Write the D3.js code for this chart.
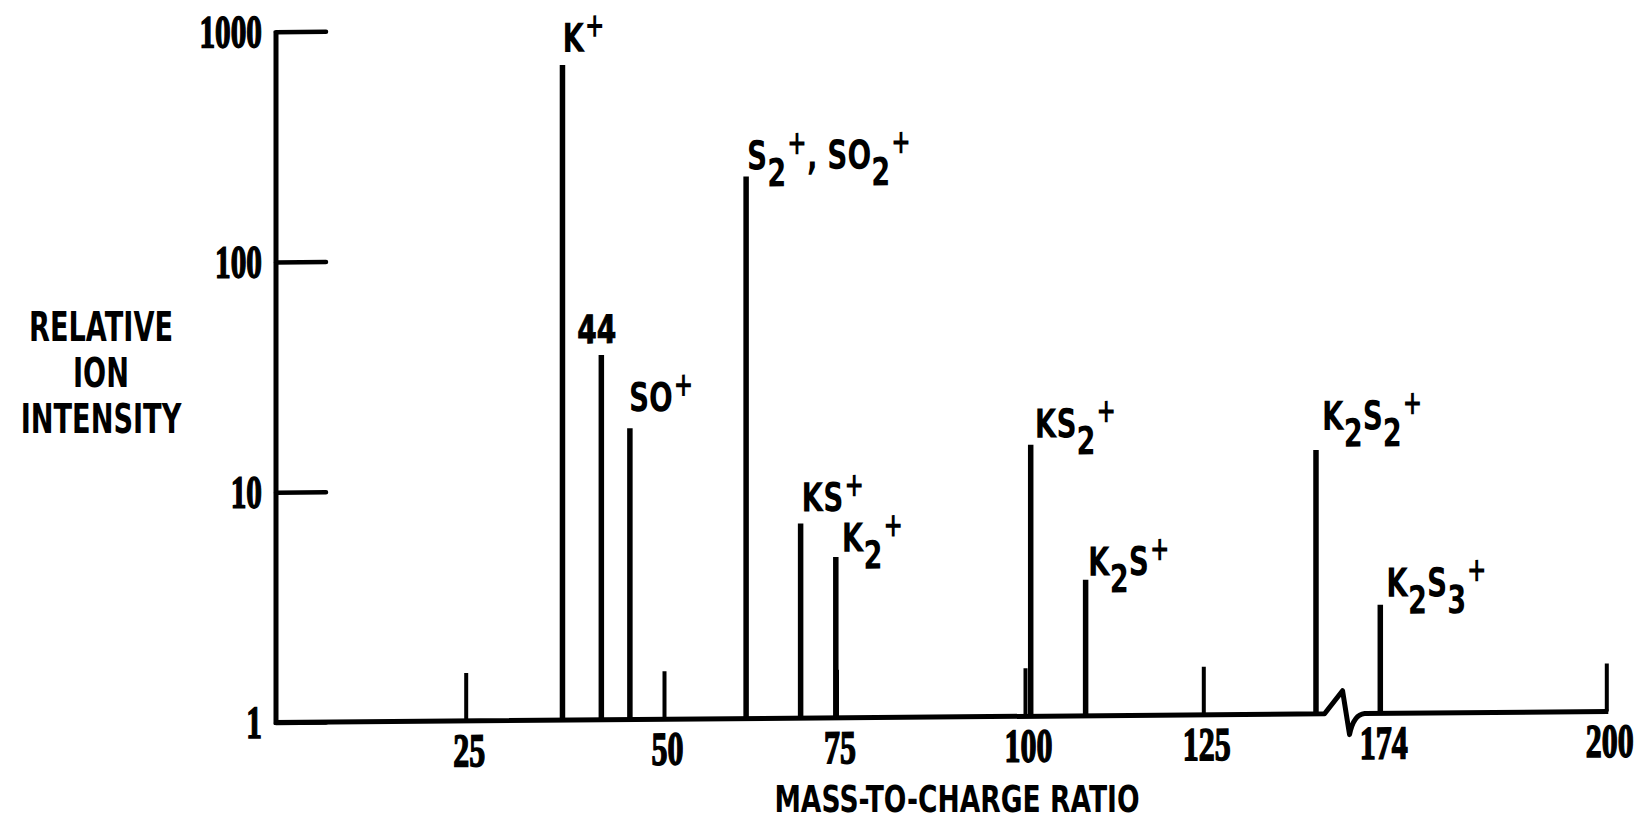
<!DOCTYPE html>
<html><head><meta charset="utf-8">
<script src="https://cdn.jsdelivr.net/npm/d3@7"></script>
<style>html,body{margin:0;padding:0;background:#fff;} svg{display:block}</style>
</head><body>
<svg id="chart" width="1643" height="822"></svg>
<script>
// ---------------- data ----------------
const ionLabels = ["K^+", "44", "SO^+", "S_2^+, SO_2^+", "KS^+", "K_2^+", "KS_2^+", "K_2S^+", "K_2S_2^+", "K_2S_3^+"];
const ionMass = [37.2, 42.1, 45.7, 61.9, 69.8, 74.9, 100.8, 108.5, 140.8, 174];
const ionIntensity = [700, 38.4, 18.4, 226, 7.0, 5.0, 15.1, 3.9, 14.0, 2.96];
const xTicksLow = [25, 50, 75, 100, 125];
const xTicksHigh = [174, 200];
const yTicks = [1, 10, 100, 1000];
const yTickLabels = ["1", "10", "100", "1000"];
const axisBreak = [142, 172.2];
const xTitle = "MASS-TO-CHARGE RATIO";
const yTitle = ["RELATIVE", "ION", "INTENSITY"];

// label placement relative to the top of each bar (layout only)
const labelOffsets = [[0,-13],[-4.5,-12],[-1,-17],[1,-7],[1,-12],[6,-5],[4,-7],[2.5,-4],[6,-20],[6,-8]];

// ---------------- layout / scales ----------------
const INK = "#000";
const SANS = "'DejaVu Sans', 'Liberation Sans', sans-serif";
const SERIF = "'Liberation Serif', 'DejaVu Serif', serif";
const svg = d3.select("#chart");

// hand-drawn abscissa: piecewise linear, broken between 142 and 172
const xLow = d3.scaleLinear().domain([0, 25, 50, 75, 100, 125]).range([276, 465.7, 664, 836.5, 1025, 1203.3]);
const xHigh = d3.scaleLinear().domain([174, 200]).range([1380.3, 1606.3]);
const x = v => (v < 160 ? xLow(v) : xHigh(v));
const y = d3.scaleLog().domain([1, 1000]).range([722.5, 31.7]);

// the drawing is slightly tilted (baseline rises to the right)
const g = svg.append("g").attr("transform", "translate(276,0) skewY(-0.474) translate(-276,0)");

// ---- y axis ----
const ySX = 0.68;
const yAxis = d3.axisLeft(y).tickValues(yTicks).tickFormat((d, i) => yTickLabels[i])
  .tickSizeInner(-50).tickSizeOuter(0).tickPadding(14);
const gy = g.append("g").attr("transform", "translate(276,0)").call(yAxis);
gy.select(".domain").attr("stroke", INK).attr("stroke-width", 5).attr("d", `M0,${y(1) + 2}V${y(1000) - 1}`);
gy.selectAll(".tick line").attr("stroke", INK).attr("stroke-width", 4.5).attr("stroke-linecap", "round");
gy.selectAll(".tick text").attr("fill", INK).attr("stroke", INK).attr("stroke-width", 1.6)
  .attr("font-family", SERIF).attr("font-weight", "bold")
  .attr("font-size", 46).attr("x", -14 / ySX).attr("transform", `scale(${ySX},1)`);

// ---- baseline with axis break ----
const y1 = y(1);
const b0 = xLow(axisBreak[0]), b1 = xHigh(axisBreak[1]);
const bp = d3.path();
bp.moveTo(xLow(0) - 2, y1);
bp.lineTo(b0, y1);
bp.lineTo(b0 + 18, y1 - 23);
bp.lineTo(b0 + 25, y1 + 21);
bp.quadraticCurveTo(b0 + 29, y1 + 1, b1, y1);
bp.lineTo(xHigh(200) + 2, y1);
g.append("path").attr("d", bp.toString()).attr("fill", "none").attr("stroke", INK)
  .attr("stroke-width", 5).attr("stroke-linejoin", "round");

// ---- x axes (inward ticks) ----
const xSX = 0.68;
function drawX(scale, ticks) {
  const ax = d3.axisBottom(scale).tickValues(ticks).tickFormat(d3.format("d"))
    .tickSizeInner(-48).tickSizeOuter(0).tickPadding(12);
  const gx = g.append("g").attr("transform", `translate(0,${y1})`).call(ax);
  gx.select(".domain").remove();
  gx.selectAll(".tick line").attr("stroke", INK).attr("stroke-width", 4);
  gx.selectAll(".tick text").attr("fill", INK).attr("stroke", INK).attr("stroke-width", 1.6)
    .attr("font-family", SERIF).attr("font-weight", "bold")
    .attr("font-size", 47).attr("x", 3 / xSX).attr("transform", `scale(${xSX},1)`);
}
drawX(xLow, xTicksLow);
drawX(xHigh, xTicksHigh);

// ---- bars ----
const ions = ionMass.map((m, i) => ({ m, v: ionIntensity[i], label: ionLabels[i], off: labelOffsets[i] }));
g.selectAll("line.bar").data(ions).join("line").attr("class", "bar")
  .attr("x1", d => x(d.m)).attr("x2", d => x(d.m))
  .attr("y1", y1).attr("y2", d => y(d.v))
  .attr("stroke", INK).attr("stroke-width", 5.5);

// ---- ion labels ----
function parseLabel(s) {
  const parts = [];
  for (let i = 0; i < s.length; i++) {
    const c = s[i];
    if (c === "_" || c === "^") { parts.push({ t: s[i + 1], k: c === "_" ? "sub" : "sup" }); i++; }
    else if (parts.length && parts[parts.length - 1].k === "n") parts[parts.length - 1].t += c;
    else parts.push({ t: c, k: "n" });
  }
  return parts;
}
const LSX = 0.7;
const style = { n: { size: 40, shift: 0 }, sub: { size: 39, shift: 17 }, sup: { size: 34, shift: -15 } };
ions.forEach(d => {
  const px = x(d.m) + d.off[0], py = y(d.v) + d.off[1];
  if (/^\d+$/.test(d.label)) {
    g.append("text").attr("transform", `translate(${px},${py}) scale(0.72,1)`)
      .attr("text-anchor", "middle").attr("font-family", SANS).attr("font-weight", "bold")
      .attr("stroke", INK).attr("stroke-width", 1)
      .attr("font-size", 39).attr("fill", INK).text(d.label);
    return;
  }
  const t = g.append("text").attr("transform", `translate(${px},${py}) scale(${LSX},1)`)
    .attr("font-family", SANS).attr("font-weight", "bold").attr("font-size", 40).attr("fill", INK);
  let cur = 0;
  parseLabel(d.label).forEach(p => {
    const st = style[p.k];
    t.append("tspan").attr("dy", st.shift - cur).attr("font-size", st.size)
      .attr("dx", p.k === "sup" ? 1 : 0).text(p.t);
    cur = st.shift;
  });
});

// ---- axis titles ----
const TSX = 0.68;
const titleBase = [340.7, 387, 432.5];
yTitle.forEach((s, i) => {
  svg.append("text").attr("transform", `translate(101,${titleBase[i]}) scale(${TSX},1)`)
    .attr("text-anchor", "middle").attr("font-family", SANS).attr("font-weight", "bold")
    .attr("font-size", 40).attr("fill", INK).text(s);
});
svg.append("text").attr("transform", `translate(957,812) scale(0.7,1)`)
  .attr("text-anchor", "middle").attr("font-family", SANS).attr("font-weight", "bold")
  .attr("font-size", 38).attr("fill", INK).text(xTitle);
</script>
</body></html>
